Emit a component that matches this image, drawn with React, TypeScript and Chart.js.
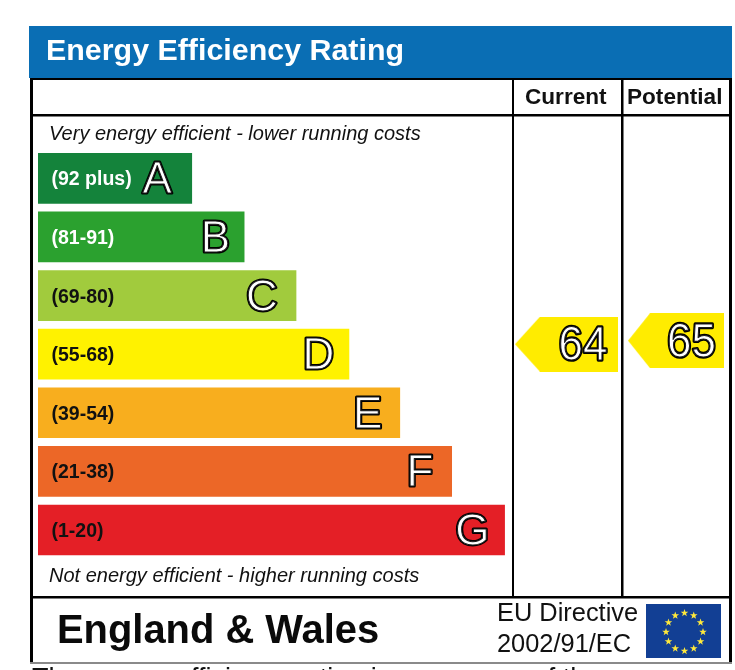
import React, { useEffect, useRef } from "react";
import { Chart, registerables } from "chart.js";

Chart.register(...registerables);

const bandRanges = ["(92 plus)", "(81-91)", "(69-80)", "(55-68)", "(39-54)", "(21-38)", "(1-20)"];
const bandLetters = ["A", "B", "C", "D", "E", "F", "G"];
const bandLengths = [2.97, 3.98, 4.98, 6.0, 6.98, 7.98, 9.0];
const bandColors = ["#14833b", "#2ba12f", "#a1cb3d", "#fff200", "#f8ae1e", "#ec6727", "#e41f26"];
const bandTextColors = ["#ffffff", "#ffffff", "#111111", "#111111", "#111111", "#111111", "#111111"];
const columns = ["Current", "Potential"];
const currentRating = 64;
const potentialRating = 65;

const letterInsets = [35, 29, 34.5, 31, 32.5, 32, 32.5];
const FONT = '"Liberation Sans", Arial, sans-serif';

function makeArrow(w: number, h: number, shoulder: number) {
  const c = document.createElement("canvas");
  c.width = w;
  c.height = h;
  const g = c.getContext("2d")!;
  g.fillStyle = "#ffec00";
  g.beginPath();
  g.moveTo(0, h / 2);
  g.lineTo(shoulder, 0);
  g.lineTo(w, 0);
  g.lineTo(w, h);
  g.lineTo(shoulder, h);
  g.closePath();
  g.fill();
  return c;
}

function outlined(ctx: CanvasRenderingContext2D, t: string, x: number, y: number, size: number, align: CanvasTextAlign, scaleY = 1) {
  ctx.save();
  ctx.translate(x, y);
  ctx.scale(1, scaleY);
  ctx.font = `${size}px ${FONT}`;
  ctx.textAlign = align;
  ctx.textBaseline = "alphabetic";
  ctx.lineJoin = "round";
  ctx.lineWidth = 3.2;
  ctx.strokeStyle = "#000000";
  ctx.strokeText(t, 0, 0);
  ctx.fillStyle = "#ffffff";
  ctx.fillText(t, 0, 0);
  ctx.lineWidth = 1;
  ctx.strokeStyle = "#1a1a1a";
  ctx.strokeText(t, 0, 0);
  ctx.restore();
}

function txt(ctx: CanvasRenderingContext2D, t: string, x: number, y: number, font: string, color: string) {
  ctx.font = font;
  ctx.fillStyle = color;
  ctx.textAlign = "left";
  ctx.textBaseline = "alphabetic";
  ctx.fillText(t, x, y);
}

const chromePlugin = {
  id: "chrome",
  beforeDatasetsDraw(chart: any) {
    const ctx: CanvasRenderingContext2D = chart.ctx;
    ctx.save();
    ctx.fillStyle = "#ffffff";
    ctx.fillRect(0, 0, 735, 670);
    ctx.fillStyle = "#0a6eb4";
    ctx.fillRect(29, 26, 703, 52);
    ctx.fillStyle = "#000000";
    ctx.fillRect(30, 78, 700, 2);
    ctx.fillRect(30, 78, 3, 584);
    ctx.fillRect(729, 78, 3, 584);
    ctx.fillRect(30, 114, 700, 2.5);
    ctx.fillRect(30, 596, 700, 2.5);
    ctx.fillRect(512, 78, 2, 519);
    ctx.fillRect(621, 78, 2.5, 519);
    ctx.fillStyle = "#8a8a8a";
    ctx.fillRect(30, 662, 702, 2);

    txt(ctx, "Energy Efficiency Rating", 46, 60, `bold 30.4px ${FONT}`, "#ffffff");
    txt(ctx, columns[0], 525, 104, `bold 22.6px ${FONT}`, "#111111");
    txt(ctx, columns[1], 627, 104, `bold 22.6px ${FONT}`, "#111111");
    txt(ctx, "Very energy efficient - lower running costs", 49, 140, `italic 20px ${FONT}`, "#111111");
    txt(ctx, "Not energy efficient - higher running costs", 49, 582, `italic 20px ${FONT}`, "#111111");
    txt(ctx, "England & Wales", 57, 643, `bold 39.9px ${FONT}`, "#0a0a0a");
    txt(ctx, "EU Directive", 497, 621, `25.4px ${FONT}`, "#111111");
    txt(ctx, "2002/91/EC", 497, 652, `25.4px ${FONT}`, "#111111");
    txt(ctx, "The energy efficiency rating is a measure of the", 32, 686.5, `27px ${FONT}`, "#111111");

    // EU flag
    ctx.fillStyle = "#123f94";
    ctx.fillRect(646, 604, 75, 54);
    ctx.fillStyle = "#ffe93b";
    for (let i = 0; i < 12; i++) {
      const a = (i * Math.PI) / 6;
      const cx = 684.5 + 18.5 * Math.sin(a);
      const cy = 632 - 19 * Math.cos(a);
      ctx.beginPath();
      for (let k = 0; k < 10; k++) {
        const r = k % 2 ? 1.6 : 4;
        const b = (k * Math.PI) / 5;
        ctx.lineTo(cx + r * Math.sin(b), cy - r * Math.cos(b));
      }
      ctx.closePath();
      ctx.fill();
    }
    ctx.restore();
  },
  afterDatasetsDraw(chart: any) {
    const ctx: CanvasRenderingContext2D = chart.ctx;
    const bars = chart.getDatasetMeta(0).data;
    ctx.save();
    bars.forEach((bar: any, i: number) => {
      txt(ctx, bandRanges[i], 51.5, bar.y + 7, `bold 19.5px ${FONT}`, bandTextColors[i]);
      outlined(ctx, bandLetters[i], bar.x - letterInsets[i], bar.y + 15, 44, "center");
    });
    const p1 = chart.getDatasetMeta(1).data[0];
    const p2 = chart.getDatasetMeta(2).data[0];
    outlined(ctx, String(currentRating), p1.x + 41, p1.y + 16, 44, "right", 1.1);
    outlined(ctx, String(potentialRating), p2.x + 40, p2.y + 16, 44, "right", 1.1);
    ctx.restore();
  },
};

export default function App() {
  const ref = useRef<HTMLCanvasElement>(null);
  useEffect(() => {
    const chart = new Chart(ref.current!, {
      type: "bar",
      plugins: [chromePlugin],
      data: {
        labels: bandLetters,
        datasets: [
          {
            type: "bar",
            indexAxis: "y",
            data: bandLengths,
            backgroundColor: bandColors,
            borderWidth: 0,
            barPercentage: 0.865,
            categoryPercentage: 1,
            grouped: false,
            xAxisID: "x",
            yAxisID: "y",
          },
          {
            type: "scatter",
            indexAxis: "x",
            data: [{ x: 1, y: currentRating }],
            pointStyle: makeArrow(103, 55, 25),
            pointRadius: 20,
            clip: false,
            xAxisID: "col",
            yAxisID: "rating",
          },
          {
            type: "scatter",
            indexAxis: "x",
            data: [{ x: 2, y: potentialRating }],
            pointStyle: makeArrow(96, 55, 22),
            pointRadius: 20,
            clip: false,
            xAxisID: "col",
            yAxisID: "rating",
          },
        ],
      } as any,
      options: {
        animation: false,
        responsive: false,
        layout: { padding: { left: 38, right: 0, top: 149, bottom: 110.7 } },
        plugins: { legend: { display: false }, tooltip: { enabled: false } },
        scales: {
          x: { type: "linear", axis: "x", display: false, offset: false, min: 0, max: 13.03 },
          y: { type: "category", axis: "y", display: false, offset: true, labels: bandLetters },
          col: { type: "linear", axis: "x", display: false, offset: false, min: -3.826, max: 2.347 },
          rating: { type: "linear", axis: "y", display: false, offset: false, min: 2.5, max: 119.8 },
        },
      } as any,
    });
    return () => chart.destroy();
  }, []);
  return (
    <canvas
      ref={ref}
      width={735}
      height={670}
      style={{ position: "absolute", left: 0, top: 0, display: "block", width: 735, height: 670 }}
    />
  );
}
